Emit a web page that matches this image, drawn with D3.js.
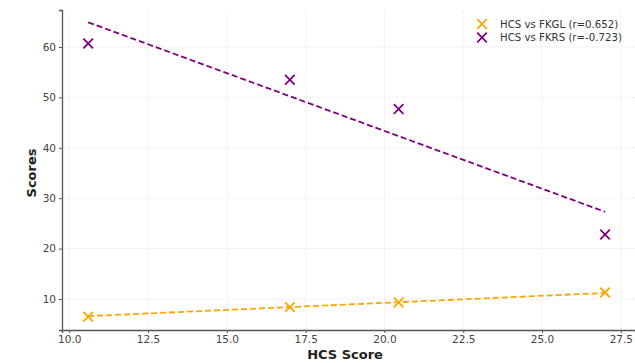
<!DOCTYPE html>
<html>
<head>
<meta charset="utf-8">
<script src="https://cdn.jsdelivr.net/npm/d3@7"></script>
<style>
  body { margin: 0; background: #fff; }
  text { font-family: "DejaVu Sans", sans-serif; }
</style>
</head>
<body>
<div id="chart"></div>
<script>
// data
var hcsScores = [10.6, 17.0, 20.45, 27.0];
var fkglScores = [6.5, 8.4, 9.3, 11.3];
var fkrsScores = [60.7, 53.5, 47.7, 22.8];
// fitted trend line ends (at first and last HCS score)
var fkglFit = [6.6, 11.2];
var fkrsFit = [64.9, 27.3];
var xTicks = [10.0, 12.5, 15.0, 17.5, 20.0, 22.5, 25.0, 27.5];
var yTicks = [10, 20, 30, 40, 50, 60];
var seriesNames = ["HCS vs FKGL (r=0.652)", "HCS vs FKRS (r=-0.723)"];
var seriesColors = ["#ffa500", "#800080"];

var svgWidth = 635, svgHeight = 363;
var margin = { top: 10, right: 0, bottom: 33, left: 62 };
var width = svgWidth - margin.left - margin.right;
var height = svgHeight - margin.top - margin.bottom;

var svg = d3.select("#chart")
    .append("svg")
    .attr("width", svgWidth)
    .attr("height", svgHeight);

var chartGroup = svg.append("g")
    .attr("transform", `translate(${margin.left}, ${margin.top})`);

var xScale = d3.scaleLinear().domain([9.77, 27.95]).range([0, width]);
var yScale = d3.scaleLinear().domain([3.85, 67.34]).range([height, 0]);

// grid
chartGroup.selectAll(".xgrid")
    .data(xTicks)
    .enter()
    .append("line")
    .attr("x1", d => xScale(d)).attr("x2", d => xScale(d))
    .attr("y1", 0).attr("y2", height)
    .attr("stroke", "#e2e2e2")
    .attr("stroke-width", 0.8)
    .attr("stroke-dasharray", "1,1");

chartGroup.selectAll(".ygrid")
    .data(yTicks)
    .enter()
    .append("line")
    .attr("x1", 0).attr("x2", width)
    .attr("y1", d => yScale(d)).attr("y2", d => yScale(d))
    .attr("stroke", "#e2e2e2")
    .attr("stroke-width", 0.8)
    .attr("stroke-dasharray", "1,1");

// axes
var bottomAxis = d3.axisBottom(xScale).tickValues(xTicks).tickFormat(d3.format(".1f")).tickSize(3).tickPadding(3);
var leftAxis = d3.axisLeft(yScale).tickValues(yTicks).tickSize(3).tickPadding(3);

var xAxisG = chartGroup.append("g")
    .attr("transform", `translate(0, ${height})`)
    .call(bottomAxis);
var yAxisG = chartGroup.append("g").call(leftAxis);

[xAxisG, yAxisG].forEach(function(g) {
    g.select(".domain").attr("stroke", "#555").attr("stroke-width", 1.3);
    g.selectAll(".tick line").attr("stroke", "#555");
    g.selectAll(".tick text").attr("fill", "#444").style("font-size", "10.5px")
        .style("font-family", "DejaVu Sans, sans-serif");
});

// trend lines
var fits = [fkglFit, fkrsFit];
fits.forEach(function(fit, i) {
    chartGroup.append("line")
        .attr("x1", xScale(hcsScores[0]))
        .attr("y1", yScale(fit[0]))
        .attr("x2", xScale(hcsScores[hcsScores.length - 1]))
        .attr("y2", yScale(fit[1]))
        .attr("stroke", seriesColors[i])
        .attr("stroke-width", 1.8)
        .attr("stroke-dasharray", "6,3");
});

// x markers
function drawX(g, cx, cy, color) {
    var s = 4.8;
    g.append("path")
        .attr("d", `M${cx - s},${cy - s}L${cx + s},${cy + s}M${cx - s},${cy + s}L${cx + s},${cy - s}`)
        .attr("stroke", color)
        .attr("stroke-width", 1.8)
        .attr("fill", "none");
}

[fkglScores, fkrsScores].forEach(function(vals, i) {
    vals.forEach(function(v, j) {
        drawX(chartGroup, xScale(hcsScores[j]), yScale(v), seriesColors[i]);
    });
});

// axis labels
svg.append("text")
    .attr("x", margin.left + xScale(18.75))
    .attr("y", 359)
    .attr("text-anchor", "middle")
    .style("font-size", "13px")
    .style("font-weight", "bold")
    .attr("fill", "#222")
    .text("HCS Score");

svg.append("text")
    .attr("transform", `translate(36, ${margin.top + yScale(35)}) rotate(-90)`)
    .attr("text-anchor", "middle")
    .style("font-size", "13px")
    .style("font-weight", "bold")
    .attr("fill", "#222")
    .text("Scores");

// legend
var legend = svg.append("g");
seriesNames.forEach(function(name, i) {
    var ly = 24 + i * 13.5;
    drawX(legend, 482, ly, seriesColors[i]);
    legend.append("text")
        .attr("x", 500)
        .attr("y", ly)
        .attr("dy", "0.35em")
        .style("font-size", "10.2px")
        .attr("fill", "#333")
        .text(name);
});
</script>
</body>
</html>
